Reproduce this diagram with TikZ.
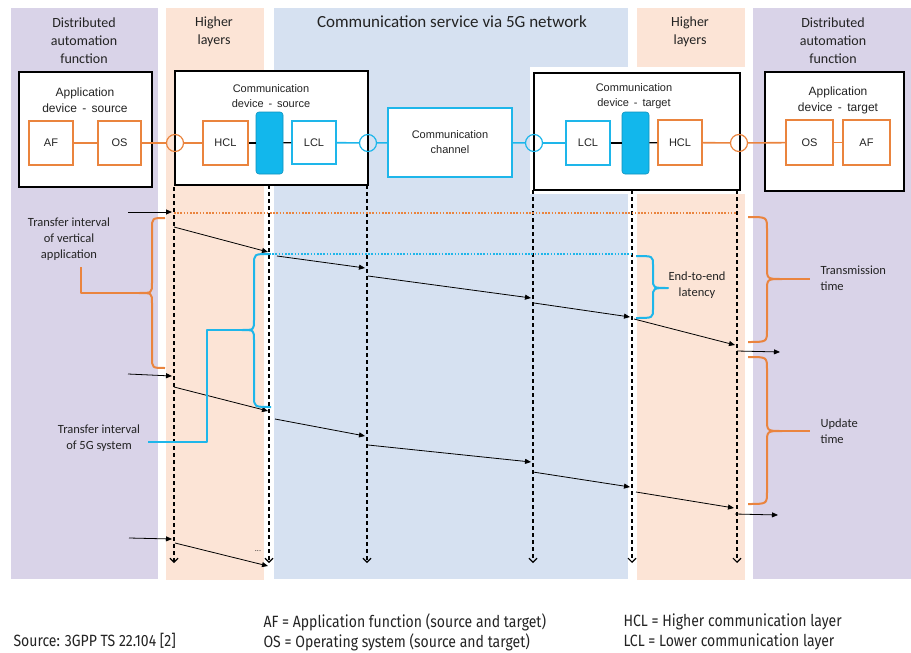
\documentclass[tikz,border=0pt]{standalone}
\usepackage{fontspec}
\setmainfont{Carlito}
\newfontfamily\arialf{Liberation Sans}
\newfontfamily\legf[FakeStretch=0.86]{Fira Sans}
\usetikzlibrary{arrows.meta}
\definecolor{bgpurple}{RGB}{217,211,232}
\definecolor{bgorange}{RGB}{252,228,214}
\definecolor{bgblue}{RGB}{214,225,241}
\definecolor{lorange}{RGB}{234,132,62}
\definecolor{lblue}{RGB}{30,182,234}
\definecolor{fblue}{RGB}{18,183,236}
\definecolor{txt}{RGB}{35,35,35}
\newcommand\msgarrow[3]{\coordinate (#1s) at (#2); \coordinate (#1e) at (#3); \draw[msg] (#1s) -- (#1e);}
\newcommand\timeline[3]{\coordinate (#1t) at (#2,#3); \coordinate (#1b) at (#2,563); \draw[tline] (#1t) -- (#1b);}
\begin{document}
\begin{tikzpicture}[x=1pt,y=-1pt,
  toplab/.style={align=center, text=txt, font=\fontsize{14}{18}\selectfont},
  brlab/.style={align=center, text=txt, font=\fontsize{12.5}{16}\selectfont},
  boxlab/.style={align=center, text=txt, font=\arialf\fontsize{11}{15}\selectfont},
  devbox/.style={draw=black, line width=2.6pt, fill=white, inner sep=0pt},
  obox/.style={draw=lorange, line width=1.6pt, fill=white, inner sep=0pt, text=txt, font=\arialf\fontsize{11}{13}\selectfont},
  bbox/.style={draw=lblue, line width=1.6pt, fill=white, inner sep=0pt, text=txt, align=center, font=\arialf\fontsize{11}{15}\selectfont},
  brect/.style={fill=fblue, draw=fblue!80!black, line width=0.6pt, rounded corners=3pt, inner sep=0pt, minimum width=27pt, minimum height=62pt},
  port/.style={circle, line width=1.2pt, minimum size=17pt, inner sep=0pt},
  oline/.style={draw=lorange, line width=1.6pt},
  bline/.style={draw=lblue, line width=1.6pt},
  kline/.style={draw=black, line width=1.2pt},
  msg/.style={draw=black, line width=0.8pt, -{Triangle[length=6pt,width=5pt]}},
  tline/.style={draw=black, line width=1.1pt, dash pattern=on 4pt off 3pt, -{Straight Barb[length=4pt,width=8pt]}},
  obrace/.style={draw=lorange, line width=2pt, line join=round},
  bbrace/.style={draw=lblue, line width=2pt, line join=round},
  odot/.style={draw=lorange, line width=1.6pt, dash pattern=on 1.6pt off 1.6pt},
  bdot/.style={draw=lblue, line width=1.6pt, dash pattern=on 1.6pt off 1.6pt},
  legend/.style={anchor=west, text=txt, font=\legf\fontsize{16.3}{18}\selectfont}]
\useasboundingbox (0,0) rectangle (911,653);
% background bands
\fill[bgpurple] (11,8) rectangle (158,579);
\fill[bgorange] (166,8) rectangle (264,580);
\fill[bgblue] (274,8) rectangle (628,579);
\fill[bgorange] (637,8) rectangle (745,580);
\fill[bgpurple] (753,8) rectangle (911,579);
\fill[white] (530,67) rectangle (745,194);
% top labels
\node[toplab] (tl1) at (84,41) {Distributed\\automation\\function};
\node[toplab] (tl2) at (214,32) {Higher\\layers};
\node[toplab, font=\fontsize{17}{20}\selectfont] (tl3) at (452,22) {Communication service via 5G network};
\node[toplab] (tl4) at (690,32) {Higher\\layers};
\node[toplab] (tl5) at (833,41) {Distributed\\automation\\function};
% device boxes
\node[devbox, minimum width=133pt, minimum height=115pt] (ads) at (85.5,129.5) {};
\node[devbox, minimum width=193pt, minimum height=114pt] (cds) at (271.5,128) {};
\node[devbox, minimum width=206pt, minimum height=117pt] (cdt) at (637,131.5) {};
\node[devbox, minimum width=139pt, minimum height=119pt] (adt) at (834.5,131.5) {};
\node[boxlab, font=\arialf\fontsize{12}{16}\selectfont] (adsl) at (85,100) {Application\\device\,\ -\,\ source};
\node[boxlab] (cdsl) at (271,96.5) {Communication\\device\,\ -\,\ source};
\node[boxlab] (cdtl) at (634,96.5) {Communication\\device\,\ -\,\ target};
\node[boxlab, font=\arialf\fontsize{12}{16}\selectfont] (adtl) at (838,100) {Application\\device\,\ -\,\ target};
% inner boxes
\node[obox, minimum width=44pt, minimum height=44pt] (afs) at (51,143) {AF};
\node[obox, minimum width=43pt, minimum height=44pt] (oss) at (119.5,143) {OS};
\node[port, draw=lorange] (c1) at (175,143) {};
\node[obox, minimum width=45pt, minimum height=44pt] (hcls) at (225.5,143) {HCL};
\node[brect] (b1) at (269.5,143) {};
\node[bbox, minimum width=44pt, minimum height=43pt] (lcls) at (314,142.5) {LCL};
\node[port, draw=lblue] (c2) at (368,143) {};
\node[bbox, minimum width=124pt, minimum height=69pt] (ch) at (450,142.5) {Communication\\channel};
\node[port, draw=lblue] (c3) at (534,143) {};
\node[bbox, minimum width=44pt, minimum height=44pt] (lclt) at (588,143) {LCL};
\node[brect] (b2) at (635.5,143) {};
\node[obox, minimum width=44pt, minimum height=45pt] (hclt) at (680,142.5) {HCL};
\node[port, draw=lorange] (c4) at (739,143) {};
\node[obox, minimum width=47pt, minimum height=45pt] (ost) at (809.5,142.5) {OS};
\node[obox, minimum width=47pt, minimum height=45pt] (aft) at (866.5,142.5) {AF};
% connectors in the top row
\draw[oline] (afs) -- (oss);
\draw[oline] (oss) -- (c1);
\draw[oline] (c1) -- (hcls);
\draw[kline] (hcls) -- (b1);
\draw[kline] (b1) -- (lcls);
\draw[bline] (lcls) -- (c2);
\draw[bline] (c2) -- (ch);
\draw[bline] (ch) -- (c3);
\draw[bline] (c3) -- (lclt);
\draw[kline] (lclt) -- (b2);
\draw[kline] (b2) -- (hclt);
\draw[oline] (hclt) -- (c4);
\draw[oline] (c4) -- (ost);
\draw[oline] (ost) -- (aft);
% timelines
\timeline{v1}{174}{187}
\timeline{v2}{269}{185}
\timeline{v3}{367}{185}
\timeline{v4}{533}{190}
\timeline{v5}{632}{190}
\timeline{v6}{737}{190}
% dotted reference lines
\coordinate (od1) at (174,213); \coordinate (od2) at (737,213);
\draw[odot] (od1) -- (od2);
\coordinate (bd1) at (269,254); \coordinate (bd2) at (632,254);
\draw[bdot] (bd1) -- (bd2);
% message rows
\msgarrow{ra1}{128,212}{172,212}
\msgarrow{ra2}{174,227}{268,252}
\msgarrow{ra3}{277,256}{365,268}
\msgarrow{ra4}{368,276}{531,298}
\msgarrow{ra5}{534,303}{630,317}
\msgarrow{ra6}{634,319}{735,345}
\msgarrow{ra7}{737,351}{780,352}
\msgarrow{rb1}{128,374}{172,376}
\msgarrow{rb2}{174,387}{268,411}
\msgarrow{rb3}{275,419}{365,436}
\msgarrow{rb4}{368,445}{531,462}
\msgarrow{rb5}{533,472}{630,487}
\msgarrow{rb6}{636,492}{734,508}
\msgarrow{rb7}{735,514}{778,515}
\msgarrow{rc1}{129,538}{172,539}
\msgarrow{rc2}{175,543}{268,566}
\node[text=txt, font=\fontsize{8}{8}\selectfont] (dots) at (258,551) {...};
% braces
\draw[obrace] (165,218) .. controls (152,218) .. (152,229) -- (152,283) .. controls (152,293) .. (139,293) .. controls (152,293) .. (152,303) -- (152,357) .. controls (152,368) .. (165,368);
\coordinate (ob1tip) at (139,293); \coordinate (ob1end) at (81,267);
\draw[obrace] (ob1tip) -- (81,293) -- (ob1end);
\draw[bbrace] (269,254) .. controls (254,254) .. (254,265) -- (254,320) .. controls (254,330) .. (242,330) .. controls (254,330) .. (254,340) -- (254,396) .. controls (254,407) .. (271,407);
\coordinate (bb1tip) at (242,330); \coordinate (bb1end) at (148,442);
\draw[bbrace] (bb1tip) -- (207,330) -- (207,442) -- (bb1end);
\draw[bbrace] (636,256) .. controls (653,256) .. (653,265) -- (653,279) .. controls (653,288) .. (668,288) .. controls (653,288) .. (653,297) -- (653,309) .. controls (653,318) .. (636,318);
\draw[obrace] (748,217) .. controls (767,217) .. (767,229) -- (767,267) .. controls (767,279) .. (782,279) .. controls (767,279) .. (767,291) -- (767,330) .. controls (767,342) .. (748,342);
\coordinate (ob2tip) at (782,279); \coordinate (ob2end) at (810,279);
\draw[obrace] (ob2tip) -- (ob2end);
\draw[obrace] (748,357) .. controls (767,357) .. (767,369) -- (767,419) .. controls (767,431) .. (782,431) .. controls (767,431) .. (767,443) -- (767,492) .. controls (767,504) .. (748,504);
\coordinate (ob3tip) at (782,431); \coordinate (ob3end) at (810,431);
\draw[obrace] (ob3tip) -- (ob3end);
% brace labels
\node[brlab] (l1) at (69,239) {Transfer interval\\of vertical\\application};
\node[brlab] (l2) at (99,438.5) {Transfer interval\\of 5G system};
\node[brlab] (l3) at (697,285) {End-to-end\\latency};
\node[brlab, anchor=west, align=left] (l4) at (817,278) {Transmission\\time};
\node[brlab, anchor=west, align=left] (l5) at (817,431) {Update\\time};
% legend
\node[legend] (src) at (10,641) {Source: 3GPP TS 22.104 [2]};
\node[legend] (lg1) at (260,622) {AF = Application function (source and target)};
\node[legend] (lg2) at (260,642) {OS = Operating system (source and target)};
\node[legend] (lg3) at (620,622) {HCL = Higher communication layer};
\node[legend] (lg4) at (620,642) {LCL = Lower communication layer};
\end{tikzpicture}
\end{document}
